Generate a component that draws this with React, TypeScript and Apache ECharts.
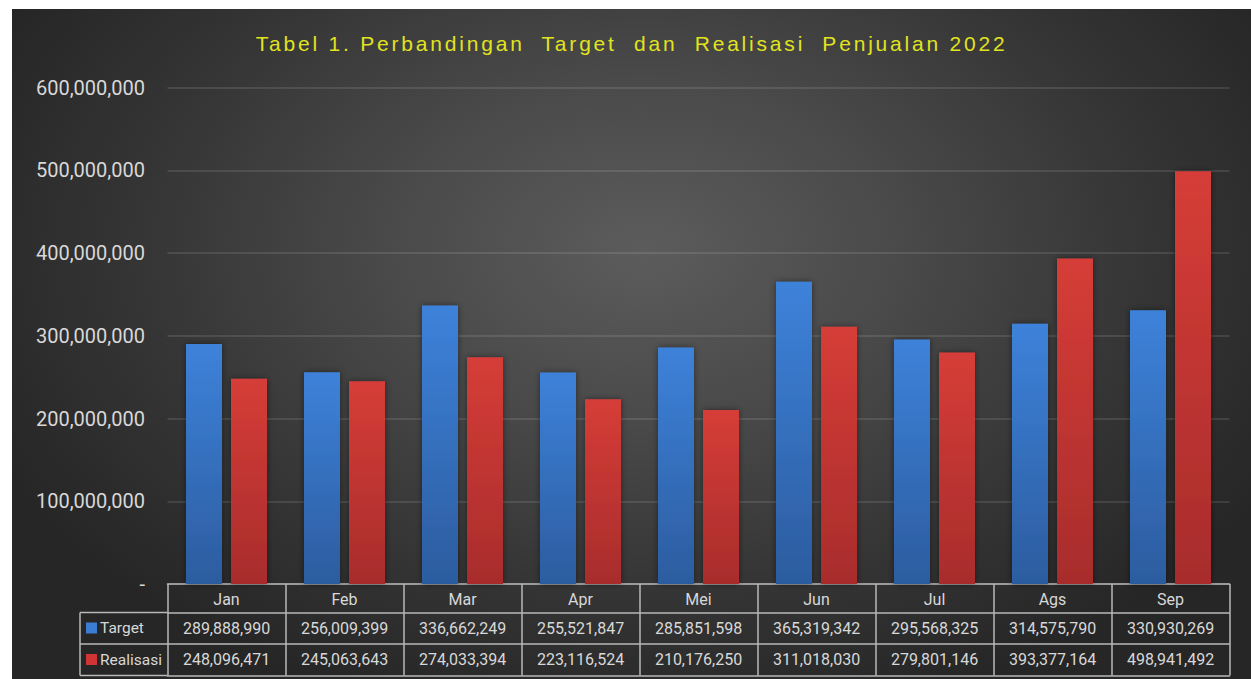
import React, { useEffect, useRef } from "react";
import * as echarts from "echarts";

const months = ["Jan", "Feb", "Mar", "Apr", "Mei", "Jun", "Jul", "Ags", "Sep"];
const target = [289888990, 256009399, 336662249, 255521847, 285851598, 365319342, 295568325, 314575790, 330930269];
const realisasi = [248096471, 245063643, 274033394, 223116524, 210176250, 311018030, 279801146, 393377164, 498941492];
const yMax = 600000000;
const yInterval = 100000000;
const titleText = "Tabel 1. Perbandingan  Target  dan  Realisasi  Penjualan 2022";

const TITLE_COLOR = "#e1e31f";
const TEXT = "#d8d8d8";
const LINE = "#b9b9b9";
const FONT = "Roboto, 'Noto Sans', sans-serif";

const fmt = (v: number) => v.toLocaleString("en-US");

export default function App() {
  const ref = useRef<HTMLDivElement>(null);
  useEffect(() => {
    if (!ref.current) return;
    const chart = echarts.init(ref.current, undefined, { renderer: "svg" });
    const lineStyle = { color: LINE, width: 1.5 };
    const tableLabel = { color: TEXT, fontFamily: FONT, fontSize: 16, interval: 0 };
    const rowH0 = 28.5;
    const rowH = 31.5;
    const gridBottomY = 575;
    const legendLeft = 68;
    const gridLeft = 155.5;
    chart.setOption({
      animation: false,
      backgroundColor: "transparent",
      graphic: [
        {
          type: "text",
          left: 243.7,
          top: 24,
          style: {
            text: titleText,
            fill: TITLE_COLOR,
            font: "21px 'Liberation Sans', Arial, sans-serif",
          },
        },
        {
          type: "line",
          shape: { x1: legendLeft, y1: gridBottomY + rowH0, x2: gridLeft, y2: gridBottomY + rowH0 },
          style: { stroke: LINE, lineWidth: 1.5 },
        },
        {
          type: "line",
          shape: { x1: legendLeft, y1: gridBottomY + rowH0 + rowH, x2: gridLeft, y2: gridBottomY + rowH0 + rowH },
          style: { stroke: LINE, lineWidth: 1.5 },
        },
        {
          type: "line",
          shape: { x1: legendLeft, y1: gridBottomY + rowH0 + 2 * rowH, x2: gridLeft, y2: gridBottomY + rowH0 + 2 * rowH },
          style: { stroke: LINE, lineWidth: 1.5 },
        },
        {
          type: "line",
          shape: { x1: legendLeft, y1: gridBottomY + rowH0, x2: legendLeft, y2: gridBottomY + rowH0 + 2 * rowH },
          style: { stroke: LINE, lineWidth: 1.5 },
        },
      ],
      legend: {
        orient: "vertical",
        left: 69,
        top: 606,
        padding: 5,
        itemGap: 15.5,
        itemWidth: 11,
        itemHeight: 11,
        icon: "rect",
        textStyle: { color: TEXT, fontFamily: FONT, fontSize: 15.5, padding: [0, 0, 0, -2] },
        data: [
          { name: "Target", itemStyle: { color: "#3b7dd4", shadowBlur: 0 } },
          { name: "Realisasi", itemStyle: { color: "#d03434", shadowBlur: 0 } },
        ],
      },
      grid: { left: gridLeft, right: 21.5, top: 78.5, bottom: 95, containLabel: false },
      yAxis: {
        type: "value",
        min: 0,
        max: yMax,
        interval: yInterval,
        axisLine: { show: false },
        axisTick: { show: false },
        axisLabel: {
          color: TEXT,
          fontFamily: FONT,
          fontSize: 20,
          margin: 22.5,
          formatter: (v: number) => (v === 0 ? "-" : fmt(v)),
        },
        splitLine: { lineStyle: { color: "rgba(255,255,255,0.14)", width: 1.5 } },
      },
      xAxis: [
        {
          type: "category",
          data: months,
          position: "bottom",
          axisLine: { show: true, lineStyle },
          axisTick: { show: true, length: rowH0, lineStyle, interval: 0 },
          axisLabel: { ...tableLabel, margin: 7 },
          splitLine: { show: false },
        },
        {
          type: "category",
          data: months,
          position: "bottom",
          offset: rowH0,
          axisLine: { show: true, lineStyle },
          axisTick: { show: true, length: rowH, lineStyle, interval: 0 },
          axisLabel: { ...tableLabel, margin: 7.8, formatter: (_v: string, i: number) => fmt(target[i]) },
          splitLine: { show: false },
        },
        {
          type: "category",
          data: months,
          position: "bottom",
          offset: rowH0 + rowH,
          axisLine: { show: true, lineStyle },
          axisTick: { show: true, length: rowH, lineStyle, interval: 0 },
          axisLabel: { ...tableLabel, margin: 7.5, formatter: (_v: string, i: number) => fmt(realisasi[i]) },
          splitLine: { show: false },
        },
        {
          type: "category",
          data: months,
          position: "bottom",
          offset: rowH0 + 2 * rowH,
          axisLine: { show: true, lineStyle },
          axisTick: { show: false },
          axisLabel: { show: false },
          splitLine: { show: false },
        },
      ],
      series: [
        {
          name: "Target",
          type: "bar",
          xAxisIndex: 0,
          data: target,
          barWidth: 36,
          barGap: "25%",
          itemStyle: {
            color: new echarts.graphic.LinearGradient(0, 0, 0, 1, [
              { offset: 0, color: "#3d82da" },
              { offset: 1, color: "#2c5c9f" },
            ]),
            shadowBlur: 6,
            shadowColor: "rgba(0,0,0,0.45)",
          },
        },
        {
          name: "Realisasi",
          type: "bar",
          xAxisIndex: 0,
          data: realisasi,
          barWidth: 36,
          barGap: "25%",
          itemStyle: {
            color: new echarts.graphic.LinearGradient(0, 0, 0, 1, [
              { offset: 0, color: "#d63d37" },
              { offset: 1, color: "#a82c2c" },
            ]),
            shadowBlur: 6,
            shadowColor: "rgba(0,0,0,0.45)",
          },
        },
      ],
    });
    return () => chart.dispose();
  }, []);

  return (
    <>
      <style>{`.chart-host svg text[fill="${TITLE_COLOR}"]{letter-spacing:2.8px;white-space:pre;}`}</style>
      <div
        ref={ref}
        className="chart-host"
        style={{
          position: "absolute",
          left: 12,
          top: 9,
          width: 1239,
          height: 670,
          background:
            "radial-gradient(ellipse 58% 72% at 51% 36%, #5c5c5c 0%, #4a4a4a 35%, #353535 70%, #262626 100%)",
        }}
      />
    </>
  );
}
